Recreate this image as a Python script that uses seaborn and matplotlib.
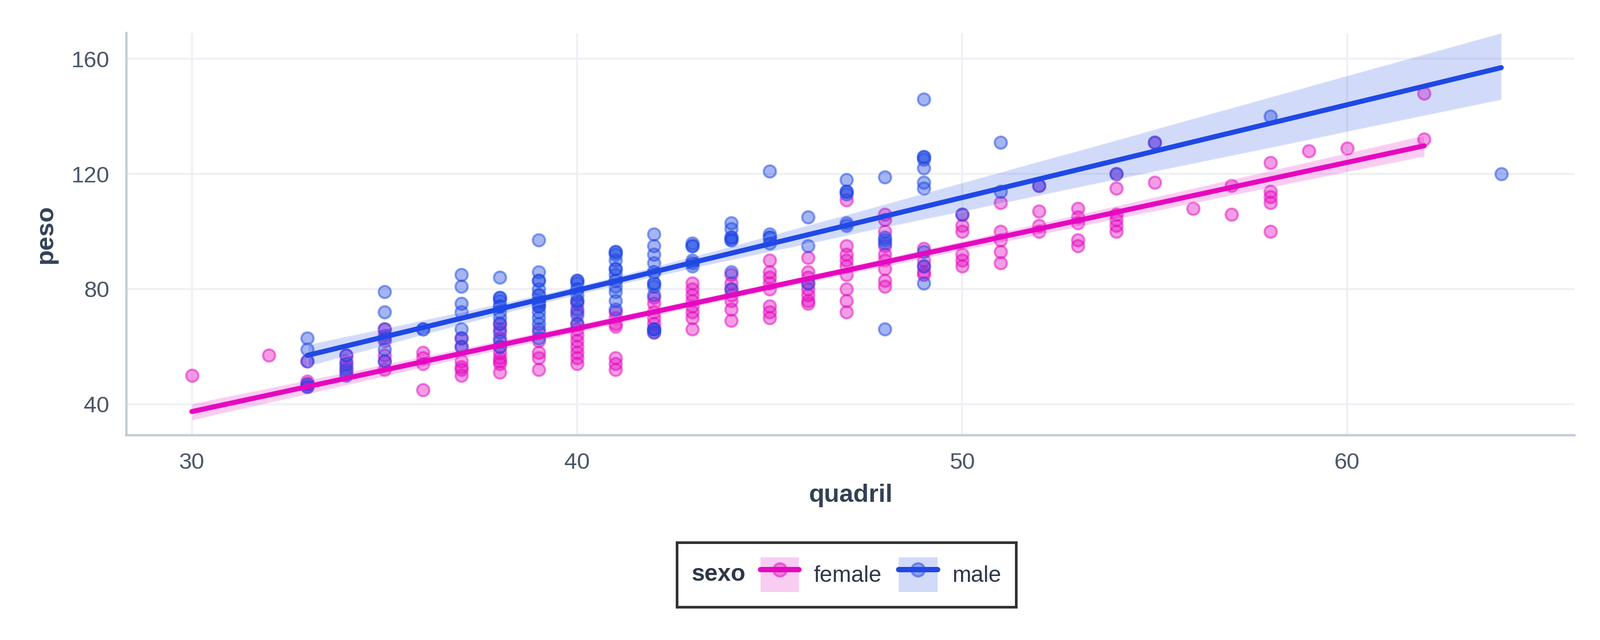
import numpy as np
import pandas as pd
import matplotlib
matplotlib.use('Agg')
import matplotlib.pyplot as plt
import matplotlib.colors as mcolors
import seaborn as sns
from matplotlib.lines import Line2D
from matplotlib.patches import Patch
from matplotlib.collections import PolyCollection
from matplotlib.offsetbox import HPacker

# ─── Data (quadril -> list of peso values)
#     darker marks are counted as repeated values
#
female_pts = {
    30: [50], 32: [57], 33: [55, 48, 47, 46], 34: [57, 55, 53, 51],
    35: [66, 64, 62, 57, 55, 52], 36: [58, 56, 54, 45],
    37: [63, 60, 55, 53, 52, 50], 38: [68, 66, 63, 60, 58, 56, 55, 54, 51],
    39: [65, 62, 58, 56, 52], 40: [75, 72, 68, 66, 64, 62, 60, 58, 56, 54],
    41: [72, 70, 68, 67, 56, 54, 52], 42: [77, 75, 72, 70, 68, 66, 65],
    43: [82, 80, 78, 76, 74, 72, 70, 66], 44: [85, 82, 80, 78, 76, 73, 69],
    45: [90, 86, 84, 82, 80, 74, 72, 70], 46: [91, 86, 84, 82, 80, 78, 76, 75],
    47: [111, 95, 92, 90, 88, 85, 80, 76, 72],
    48: [106, 104, 100, 95, 92, 90, 87, 83, 81], 49: [94, 90, 88, 86, 85],
    50: [106, 102, 100, 92, 90, 88], 51: [110, 100, 97, 93, 89],
    52: [116, 107, 102, 100], 53: [108, 105, 103, 97, 95],
    54: [120, 115, 106, 104, 102, 100], 55: [131, 117], 56: [108],
    57: [116, 106], 58: [124, 114, 112, 110, 100], 59: [128], 60: [129],
    62: [148, 132],
}
male_pts = {
    33: [63, 59, 55, 47, 46], 34: [57, 54, 52, 50], 35: [79, 72, 66, 63, 59, 55],
    36: [66, 66], 37: [85, 81, 75, 72, 66, 63, 60],
    38: [84, 77, 77, 76, 74, 74, 72, 70, 68, 65, 62, 60],
    39: [97, 86, 83, 83, 80, 78, 78, 76, 76, 75, 74, 74, 72, 70, 68, 66, 63],
    40: [83, 83, 82, 80, 80, 78, 76, 76, 73, 71, 68],
    41: [93, 93, 92, 90, 87, 87, 85, 83, 83, 81, 79, 76, 73],
    42: [99, 95, 92, 89, 86, 86, 82, 82, 81, 78, 66, 66, 65],
    43: [96, 95, 95, 90, 89, 89, 88], 44: [103, 101, 98, 98, 97, 97, 86, 80],
    45: [121, 99, 98, 98, 96], 46: [105, 95, 82],
    47: [118, 114, 114, 113, 103, 102], 48: [119, 98, 97, 96, 66],
    49: [146, 126, 126, 125, 122, 117, 115, 93, 88, 82], 50: [106],
    51: [131, 114], 52: [116], 54: [120], 55: [131], 58: [140], 64: [120],
}
groups = ['female', 'male']
colors = {'female': '#e508c0', 'male': '#1f48e5'}

rows = []
for sexo, pts in (('female', female_pts), ('male', male_pts)):
    for q, ws in pts.items():
        for w in ws:
            rows.append({'quadril': q, 'peso': w, 'sexo': sexo})
df = pd.DataFrame(rows)

sns.set_style('white')
plt.rcParams['font.family'] = ['Liberation Sans', 'DejaVu Sans']

fig = plt.figure(figsize=(15, 6), dpi=200)
ax = fig.add_axes([0.079, 0.32, 0.905, 0.628])

for sexo in groups:
    sub = df[df['sexo'] == sexo]
    c = colors[sexo]
    rgb = mcolors.to_rgb(c)
    sns.regplot(data=sub, x='quadril', y='peso', ax=ax, ci=95, color=c, seed=1,
                scatter_kws={'s': 68, 'alpha': None, 'color': rgb + (0.4,),
                             'edgecolor': rgb + (0.5,), 'linewidths': 1.4},
                line_kws={'lw': 3.4, 'color': c})

# confidence bands a bit stronger than seaborn's default
for coll in ax.collections:
    if isinstance(coll, PolyCollection):
        coll.set_alpha(0.2)

ax.set_xlim(28.3, 65.9)
ax.set_ylim(29.2, 168.9)
ax.set_xticks([30, 40, 50, 60])
ax.set_yticks([40, 80, 120, 160])
ax.grid(True, color='#eef0f5', lw=1.3)
ax.set_axisbelow(True)
for s in ['top', 'right']:
    ax.spines[s].set_visible(False)
for s in ['left', 'bottom']:
    ax.spines[s].set_color('#c3cdd9')
    ax.spines[s].set_linewidth(1.6)
ax.tick_params(colors='#c3cdd9', labelcolor='#4a5568', labelsize=15.5,
               length=4.5, width=1.3, pad=7)
ax.set_xlabel('quadril', fontsize=17, fontweight='bold', color='#334155',
              labelpad=7)
ax.set_ylabel('peso', fontsize=17, fontweight='bold', color='#334155',
              labelpad=9)

# legend: shaded band + line + marker per group, title on the left
handles = []
for sexo in groups:
    c = colors[sexo]
    rgb = mcolors.to_rgb(c)
    handles.append((Patch(facecolor=rgb + (0.2,), edgecolor='none'),
                    Line2D([], [], color=rgb + (0.4,), lw=0, marker='o',
                           markersize=9, markeredgecolor=rgb + (0.5,),
                           markeredgewidth=1.4),
                    Line2D([], [], color=c, lw=3.6)))
leg = fig.legend(handles, groups, loc='center', bbox_to_anchor=(0.529, 0.102),
                 ncol=2, title='sexo', frameon=True, fontsize=15.3,
                 title_fontsize=16, handlelength=1.7, handleheight=2.0,
                 handletextpad=0.65, borderpad=0.6, columnspacing=0.75,
                 fancybox=False)
leg.get_frame().set_edgecolor('black')
leg.get_frame().set_linewidth(1.8)
leg.get_title().set_fontweight('bold')
leg.get_title().set_color('#2d3748')
for t in leg.get_texts():
    t.set_color('#2d3748')
items = leg._legend_box.get_children()
box = HPacker(pad=10, sep=10, align='center', children=items)
box.set_figure(fig)
box.set_offset(leg._findoffset)
leg._legend_box = box

fig.savefig('out.png', dpi=200, facecolor='white')
